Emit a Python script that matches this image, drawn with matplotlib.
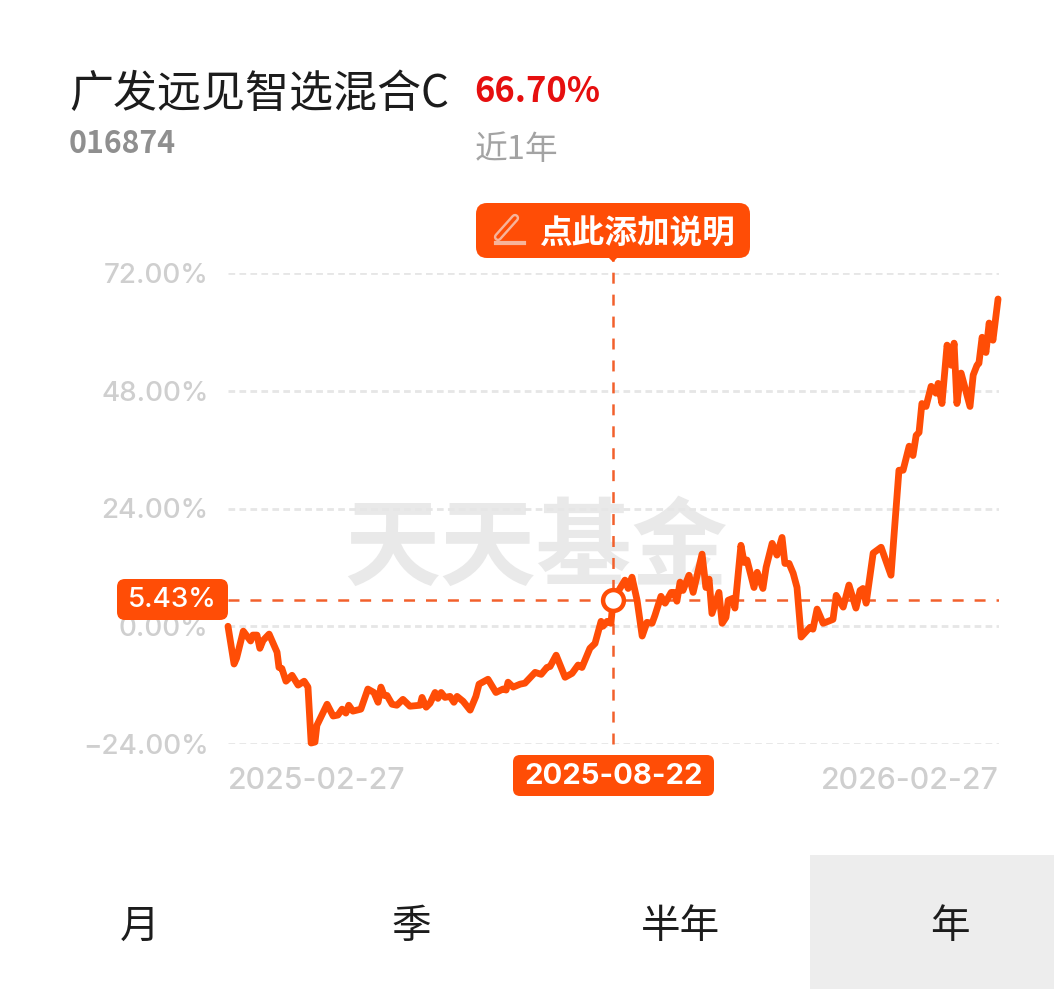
import matplotlib
matplotlib.use("Agg")
import matplotlib.pyplot as plt
from matplotlib.patches import FancyBboxPatch, Rectangle, Polygon

plt.rcParams['font.family'] = ['Noto Sans CJK SC', 'DejaVu Sans']
plt.rcParams['lines.scale_dashes'] = False

title = "广发远见智选混合C"
code = "016874"
gain = "66.70%"
period = "近1年"
button_text = "点此添加说明"
watermark = "天天基金"
tabs = ["月", "季", "半年", "年"]
y_ticks = [-24, 0, 24, 48, 72]
y_labels = ["−24.00%", "0.00%", "24.00%", "48.00%", "72.00%"]
x_tick_labels = ["2025-02-27", "2026-02-27"]
sel_label_date = "2025-08-22"
sel_label_val = "5.43%"
sel_session = 120.9
sel_value = 5.43

sessions = [0, 1.9, 2.7, 4.8, 7.1, 7.8, 9.1, 10.0, 11.0, 12.9, 15.4, 16.0, 16.9, 18.2, 20.1, 22.0, 23.9, 25.1, 26.1, 27.3,
            27.9, 31.1, 33.0, 34.5, 35.8, 37.0, 37.9, 39.2, 41.7, 43.9, 45.8, 47.1, 48.0, 49.0, 49.9, 51.5, 53.0, 54.9,
            57.1, 60.3, 60.9, 62.2, 63.4, 65.0, 65.9, 66.9, 68.1, 69.7, 70.9, 71.9, 73.8, 76.0, 77.8, 78.8, 81.6, 84.1,
            86.3, 87.3, 87.9, 89.5, 91.7, 93.2, 96.4, 98.3, 100.1, 101.1, 103.0, 105.8, 108.0, 109.9, 111.1, 113.6, 115.2,
            117.1, 117.7, 119.0, 120.2, 120.9, 123.0, 124.6, 125.6, 126.8, 128.4, 130.0, 131.5, 133.1, 134.0, 135.9, 137.2,
            139.1, 140.0, 140.9, 141.9, 142.8, 144.7, 146.0, 148.8, 150.0, 151.0, 151.9, 154.1, 155.1, 156.3, 157.0, 158.5,
            159.1, 161.0, 162.0, 162.9, 165.1, 166.1, 167.9, 168.9, 170.8, 172.3, 173.9, 174.8, 176.1, 177.4, 178.6, 179.9,
            182.7, 183.6, 184.9, 186.8, 189.9, 190.9, 193.1, 194.9, 197.1, 198.4, 199.3, 200.3, 202.5, 205.0, 208.1, 210.6,
            211.9, 213.8, 215.0, 216.0, 216.9, 217.8, 219.1, 220.7, 222.2, 222.9, 224.1, 225.7, 227.0, 227.9, 228.8, 230.1,
            232.9, 233.9, 235.1, 235.7, 236.7, 237.9, 238.9, 240.1, 241.7]
returns = [0, -7.7, -6.5, -1.0, -3.0, -1.8, -1.8, -4.5, -2.9, -1.6, -5.3, -8.4, -8.6, -11.2, -10.0, -12.0, -11.2, -12.4, -23.8, -23.6,
           -20.2, -15.9, -18.3, -18.1, -16.9, -17.7, -16.1, -17.3, -16.9, -12.8, -13.5, -15.5, -12.4, -14.1, -14.1, -15.9, -16.1, -14.9,
           -16.3, -16.1, -14.5, -16.5, -15.7, -13.5, -14.7, -13.5, -14.5, -14.3, -15.5, -14.3, -15.3, -17.1, -14.3, -11.8, -10.8, -13.5,
           -12.8, -13.0, -11.4, -12.4, -11.8, -11.6, -9.4, -9.8, -8.4, -8.2, -5.9, -10.4, -9.6, -7.9, -8.4, -4.5, -3.5,
           1.0, 0, 1.0, 0.6, 5.43, 7.7, 9.4, 7.7, 10.0, 5.3, -2.0, 0.8, 0.6, 2.2, 6.1, 4.7,
           6.9, 6.9, 5.1, 9.0, 7.3, 10.4, 6.9, 14.7, 7.9, 9.6, 2.6, 6.9, 0.6, 1.8, 5.3, 5.7,
           3.7, 16.5, 13.0, 13.5, 7.9, 11.0, 7.7, 12.0, 16.9, 14.5, 18.1, 12.8, 12.8, 10.8, 7.9, -2.2,
           -0.2, -0.6, 3.5, 0.6, 1.4, 6.3, 3.9, 8.4, 3.7, 7.3, 7.7, 4.7, 14.9, 16.1, 10.4, 31.8,
           31.8, 36.7, 34.8, 38.9, 39.5, 45.4, 44.8, 48.9, 47.5, 49.5, 45.4, 57.3, 53.2, 57.7, 45.4, 51.6,
           44.8, 51.2, 53.2, 53.6, 58.9, 55.8, 61.8, 58.3, 66.7]

ORANGE = "#ff4d06"
TICK = "#cfcfcf"
W, H = 1054, 1002
fig = plt.figure(figsize=(W / 100, H / 100), dpi=100, facecolor="white")

# page layer in pixel units, behind the chart
page = fig.add_axes([0, 0, 1, 1], zorder=0)
page.set_xlim(0, W)
page.set_ylim(H, 0)
page.axis("off")

page.text(69, 94, title, fontsize=31.7, color="#1c1c1c", va="center", ha="left")
page.text(474, 91, gain, fontsize=24.8, color="#e60f0f", va="center", ha="left", fontweight="bold")
page.text(69, 144, code, fontsize=21.8, color="#8f8f8f", va="center", ha="left", fontweight="bold")
page.text(475, 150, period, fontsize=23.6, color="#a3a3a3", va="center", ha="left")
page.text(536, 550, watermark, fontsize=69, color="#e9e9e9", va="center", ha="center", fontweight="bold")

page.add_patch(Rectangle((810, 855), 244, 134, fc="#ededed", ec="none"))
for tab, cx in zip(tabs, [140, 411, 681, 950]):
    page.text(cx, 927, tab, fontsize=28.5, color="#1c1c1c", va="center", ha="center")

# chart layer
ax = fig.add_axes([228 / W, 1 - 744 / H, 771 / W, 471 / H], zorder=1)
ax.patch.set_alpha(0)
ax.set_xlim(0, 242)
ax.set_ylim(-24, 72)
for s in ax.spines.values():
    s.set_visible(False)
ax.set_yticks(y_ticks)
ax.set_yticklabels(y_labels, fontsize=20, color=TICK, family="Inter", fontweight="medium")
ax.set_xticks([0, 242])
ax.set_xticklabels(x_tick_labels, fontsize=21.8, color=TICK, family="Inter", fontweight="medium")
ax.get_xticklabels()[0].set_ha("left")
ax.get_xticklabels()[1].set_ha("right")
ax.tick_params(axis="both", length=0)
ax.tick_params(axis="y", pad=14)
ax.tick_params(axis="x", pad=16.5)
ax.grid(axis="y", color="#e6e6e6", lw=2, linestyle=(0, (4.8, 3.1)))
ax.set_axisbelow(True)

ax.axhline(sel_value, color="#f2602c", lw=1.8, linestyle=(0, (7.9, 7.9)), zorder=2)
ax.plot([sel_session, sel_session], [-24, 75], color="#f2602c", lw=1.8, linestyle=(0, (7.9, 7.9)),
        zorder=2, clip_on=False)
ax.plot(sessions, returns, color=ORANGE, lw=4.9, solid_joinstyle="round", solid_capstyle="round",
        zorder=3, clip_on=False)
ax.plot([sel_session], [sel_value], "o", ms=15, mfc="white", mec=ORANGE, mew=3.2, zorder=4, clip_on=False)

# overlay labels
top = fig.add_axes([0, 0, 1, 1], zorder=2)
top.set_xlim(0, W)
top.set_ylim(H, 0)
top.axis("off")


def box(x0, y0, x1, y1, r=9):
    top.add_patch(FancyBboxPatch((x0 + r, y0 + r), x1 - x0 - 2 * r, y1 - y0 - 2 * r,
                                 boxstyle=f"round,pad={r},rounding_size={r}", fc=ORANGE, ec="none"))


box(476, 203, 750, 258, 11)
top.add_patch(Polygon([[608, 257], [618, 257], [613, 262]], fc=ORANGE, ec="none"))
top.text(637, 234, button_text, fontsize=23.5, color="white", va="center", ha="center", fontweight="bold")
# pen icon
top.plot([498, 515], [237, 218], color="#f7b39a", lw=6, solid_capstyle="round")
top.plot([498, 515], [237, 218], color=ORANGE, lw=2.5, solid_capstyle="round")
top.plot([496, 524], [243, 243], color="#f7b39a", lw=3)

box(117, 579, 228, 620, 8)
top.text(172.5, 600, sel_label_val, fontsize=20, color="white", va="center", ha="center", family="Inter",
         fontweight="medium")
box(513, 755, 714, 796, 7)
top.text(613.5, 776, sel_label_date, fontsize=21, color="white", va="center", ha="center", family="Inter",
         fontweight="bold")

fig.savefig("out.png", dpi=100, facecolor="white")
